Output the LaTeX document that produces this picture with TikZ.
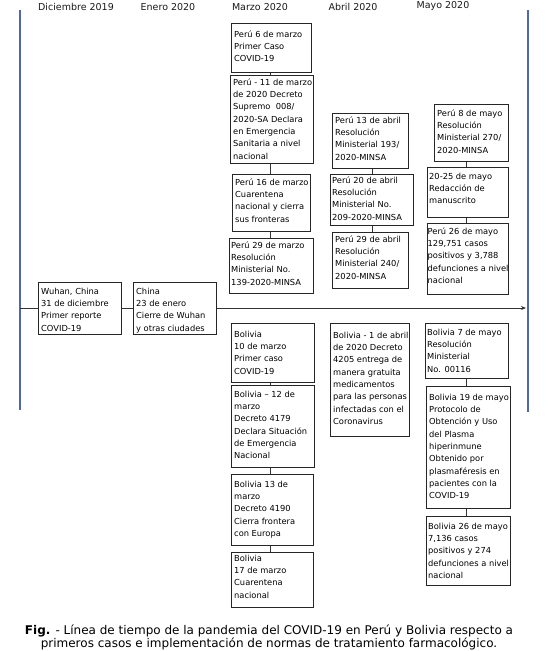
\documentclass[tikz,border=0pt]{standalone}
\usepackage{fontspec}
\setmainfont{DejaVu Sans}
\usetikzlibrary{arrows.meta}
\definecolor{bluebar}{RGB}{79,105,168}
\tikzset{
  bx/.style={draw=black!85, line width=0.8pt, fill=white, inner sep=0pt},
  bxt/.style={inner sep=0pt, align=left, anchor=north west, font=\fontsize{8.3}{12.3}\selectfont, text=black},
  hdr/.style={font=\fontsize{9.5}{11}\selectfont, anchor=base, text=black!90},
  lnk/.style={draw=black!80, line width=0.8pt},
  bar/.style={draw=bluebar, line width=2.6pt},
}
\newcommand\bx[8]{%
  \node[bx, minimum width=#4pt, minimum height=#5pt, anchor=north west] (#1) at (#2,#3) {};
  \node[bxt] (#1-t) at ([xshift=#6pt]#1.north west) {\rule{0pt}{#7pt}#8};
}
\begin{document}
\begin{tikzpicture}[x=1pt,y=-1pt]
\useasboundingbox (0,0) rectangle (551,651);
% headers
\node[hdr] (h1) at (76,10) {Diciembre 2019};
\node[hdr] (h2) at (168,10) {Enero 2020};
\node[hdr] (h3) at (260,10) {Marzo 2020};
\node[hdr] (h4) at (353,10) {Abril 2020};
\node[hdr] (h5) at (443,8) {Mayo 2020};
% blue bars
\coordinate (bl0) at (20,10); \coordinate (bl1) at (20,410);
\coordinate (br0) at (528,10); \coordinate (br1) at (528,412);
\draw[bar] (bl0) -- (bl1);
\draw[bar] (br0) -- (br1);
% timeline
\coordinate (t0) at (20,308); \coordinate (t1) at (526,308);
\draw[lnk,-{Stealth[length=5pt,width=4pt]}] (t0) -- (t1);
% column axes
\coordinate (cM) at (270,0); \coordinate (cA) at (372,0); \coordinate (cY) at (466,0);
% timeline boxes
\bx{wu}{38}{282}{83}{52}{3}{12}{Wuhan, China\\31 de diciembre\\Primer reporte\\COVID-19}
\bx{ch}{133}{282}{83}{52}{3}{12}{China\\23 de enero\\Cierre de Wuhan\\y otras ciudades}
% Peru marzo
\bx{pm1}{231}{23}{80}{49}{3}{14}{Perú 6 de marzo\\Primer Caso\\COVID-19}
\bx{pm2}{230}{75}{83}{88}{3}{10}{Perú - 11 de marzo\\de 2020 Decreto\\Supremo~ 008/\\2020-SA Declara\\en Emergencia\\Sanitaria a nivel\\nacional}
\bx{pm3}{232}{174}{78}{57}{3}{11}{Perú 16 de marzo\\Cuarentena\\nacional y cierra\\sus fronteras}
\bx{pm4}{229}{238}{84}{55}{2}{10}{Perú 29 de marzo\\Resolución\\Ministerial No.\\139-2020-MINSA}
\draw[lnk] (pm1.south -| cM) -- (pm2.north -| cM);
\draw[lnk] (pm2.south -| cM) -- (pm3.north -| cM);
\draw[lnk] (pm3.south -| cM) -- (pm4.north -| cM);
% Peru abril
\bx{pa1}{332}{113}{76}{55}{3}{10}{Perú 13 de abril\\Resolución\\Ministerial 193/\\2020-MINSA}
\bx{pa2}{330}{174}{83}{51}{2}{9}{Perú 20 de abril\\Resolución\\Ministerial No.\\209-2020-MINSA}
\bx{pa3}{332}{232}{76}{56}{3}{10}{Perú 29 de abril\\Resolución\\Ministerial 240/\\2020-MINSA}
\draw[lnk] (pa1.south -| cA) -- (pa2.north -| cA);
\draw[lnk] (pa2.south -| cA) -- (pa3.north -| cA);
% Peru mayo
\bx{py1}{434}{104}{74}{57}{3}{12}{Perú 8 de mayo\\Resolución\\Ministerial 270/\\2020-MINSA}
\bx{py2}{427}{167}{81}{50}{2}{12}{20-25 de mayo\\Redacción de\\manuscrito}
\bx{py3}{427}{223}{81}{71}{0.5}{11}{Perú 26 de mayo\\129,751 casos\\positivos y 3,788\\defunciones a nivel\\nacional}
\draw[lnk] (py1.south -| cY) -- (py2.north -| cY);
\draw[lnk] (py2.south -| cY) -- (py3.north -| cY);
% Bolivia marzo
\bx{bm1}{231}{323}{83}{59}{3}{14}{Bolivia\\10 de marzo\\Primer caso\\COVID-19}
\bx{bm2}{231}{385}{83}{82}{3}{12}{Bolivia – 12 de\\marzo\\Decreto 4179\\Declara Situación\\de Emergencia\\Nacional}
\bx{bm3}{231}{474}{82}{71}{3}{13}{Bolivia 13 de\\marzo\\Decreto 4190\\Cierra frontera\\con Europa}
\bx{bm4}{231}{552}{82}{55}{3}{9}{Bolivia\\17 de marzo\\Cuarentena\\nacional}
\draw[lnk] (bm1.south -| cM) -- (bm2.north -| cM);
\draw[lnk] (bm2.south -| cM) -- (bm3.north -| cM);
\draw[lnk] (bm3.south -| cM) -- (bm4.north -| cM);
% Bolivia abril
\bx{ba1}{330}{323}{79}{113}{3}{15}{Bolivia - 1 de abril\\de 2020 Decreto\\4205 entrega de\\manera gratuita\\medicamentos\\para las personas\\infectadas con el\\Coronavirus}
% Bolivia mayo
\bx{by1}{425}{323}{83}{55}{2}{12}{Bolivia 7 de mayo\\Resolución\\Ministerial\\No. 00116}
\bx{by2}{426}{386}{84}{122}{3}{14}{Bolivia 19 de mayo\\Protocolo de\\Obtención y Uso\\del Plasma\\hiperinmune\\Obtenido por\\plasmaféresis en\\pacientes con la\\COVID-19}
\bx{by3}{426}{516}{84}{69}{2}{13}{Bolivia 26 de mayo\\7,136 casos\\positivos y 274\\defunciones a nivel\\nacional}
\draw[lnk] (by1.south -| cY) -- (by2.north -| cY);
\draw[lnk] (by2.south -| cY) -- (by3.north -| cY);
% caption
\node[font=\fontsize{12}{13}\selectfont, align=center, inner sep=0pt, anchor=north] (cap) at (269,624) {\rule{0pt}{10pt}\textbf{Fig.} - Línea de tiempo de la pandemia del COVID-19 en Perú y Bolivia respecto a\\primeros casos e implementación de normas de tratamiento farmacológico.};
\end{tikzpicture}
\end{document}
